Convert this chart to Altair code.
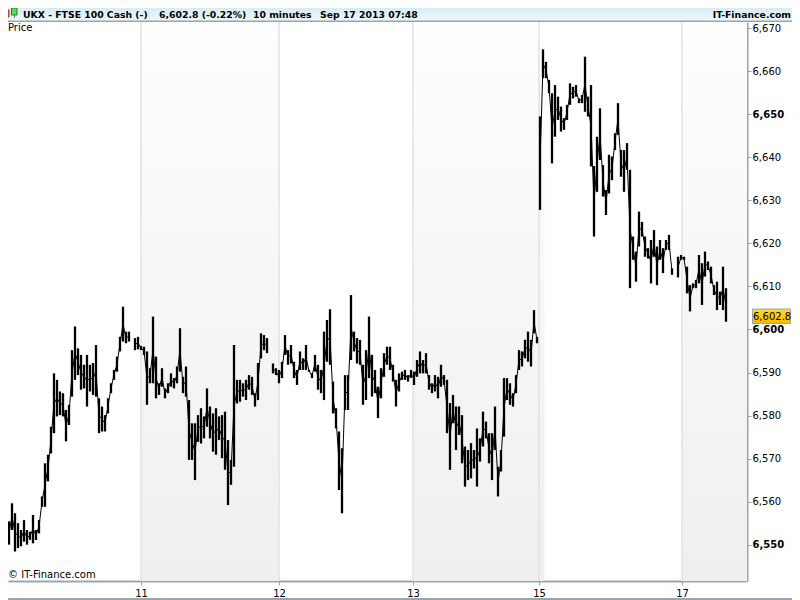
import json
import altair as alt
import pandas as pd

bar_high = [
 6553.0,6555.0,6555.4,6559.6,6557.3,6555.0,6553.4,6555.7,6553.4,6553.0,6556.9,6553.4,6555.7,6561.2,6568.9,6570.9,
 6577.4,6589.8,6588.3,6585.6,6585.2,6581.3,6582.5,6595.2,6600.7,6595.6,6594.1,6591.8,6594.1,6591.8,6592.2,6596.4,
 6584.0,6582.1,6580.1,6584.0,6587.5,6590.6,6593.7,6598.3,6605.3,6599.5,6599.5,None,6598.0,6598.3,6596.2,6596.0,
 6594.9,6591.0,6603.0,6593.7,6587.5,6591.0,6586.3,6587.5,6589.8,6588.7,6591.4,6600.3,6589.0,6591.4,6583.6,6578.2,
 6578.2,6580.1,6581.7,6579.8,6586.3,6582.1,6580.5,6581.7,6579.8,6580.1,6580.9,6574.3,6569.7,6596.4,6588.3,6588.3,
 6587.5,6588.3,6589.4,6589.0,6585.2,6592.2,6599.1,6598.7,6598.0,None,
 6592.1,6591.0,6590.6,6592.5,6598.7,6595.2,6596.4,6592.5,6590.6,6594.9,6593.3,6596.4,6590.6,6589.8,6594.1,6591.8,
 6590.6,6599.5,6602.2,6604.7,6587.9,6581.7,6576.3,6572.4,6589.4,6589.4,6608.0,6599.5,6598.0,6597.6,6591.8,6595.2,
 6603.0,6594.1,6590.6,6586.7,6591.0,6594.5,6596.0,6596.0,6591.8,6588.3,6589.8,6590.2,6590.6,6589.4,6590.6,6590.2,
 6592.9,6594.9,6592.9,6594.5,6589.4,6587.5,6589.4,6589.0,6591.8,6589.4,6588.3,6582.9,6584.8,6582.1,6582.1,6580.1,
 6572.8,6572.0,6573.6,6572.0,6577.0,6574.7,6580.9,6578.6,6575.9,6575.9,6582.1,6568.1,6572.0,6588.7,6588.7,6587.5,
 6585.2,6589.4,6595.2,6594.9,6597.6,6599.5,6597.6,6604.5,6598.3,
 6649.5,6665.1,6662.2,6658.0,6654.9,6656.8,6654.1,6651.8,6649.1,6652.2,6657.2,6656.4,6656.8,6653.7,6654.5,6663.4,
 6654.1,6656.8,6638.0,6644.8,6651.4,6638.2,6632.4,6640.6,6640.2,6645.6,6652.6,6641.7,6641.7,6643.3,6637.1,6621.6,
 6618.1,6627.4,6625.0,6621.6,6618.9,6620.8,6623.1,6619.3,6620.8,6618.9,6620.8,6622.0,6614.2,None,6616.9,6617.3,
 6616.9,6614.6,6610.3,6610.7,6611.5,6617.3,6615.4,6618.1,6615.8,6614.6,6610.3,6611.1,6608.8,6614.6,6609.6]
bar_low = [
 6551.7,6553.0,6550.0,6553.4,6548.4,6549.2,6549.6,6550.7,6550.0,6551.1,6550.3,6551.1,6552.6,6558.8,6558.8,6564.7,
 6571.2,6575.9,6579.8,6580.1,6579.8,6574.0,6577.8,6584.4,6588.3,6589.4,6586.0,6586.3,6582.1,6585.6,6584.8,6584.4,
 6575.9,6576.3,6576.3,6580.5,6585.2,6588.3,6590.2,6594.9,6597.2,6596.8,6597.2,None,6595.2,6595.4,6595.2,6594.1,
 6582.5,6587.5,6587.5,6584.0,6584.8,6586.7,6584.0,6585.2,6586.7,6586.3,6587.5,6590.2,6585.2,6584.4,6569.7,6569.7,
 6565.0,6573.9,6573.5,6574.7,6577.4,6574.7,6571.6,6570.9,6574.3,6570.1,6567.4,6559.2,6563.9,6568.1,6582.8,6583.2,
 6584.4,6583.6,6586.0,6584.8,6582.1,6583.6,6593.3,6595.2,6594.5,None,
 6589.8,6589.4,6587.5,6588.7,6594.1,6591.8,6592.1,6588.7,6587.1,6590.6,6590.6,6590.6,6590.2,6588.7,6590.2,6586.0,
 6585.2,6583.6,6592.5,6591.8,6580.5,6577.0,6562.7,6557.3,6581.3,6581.3,6592.9,6594.9,6592.1,6591.8,6582.5,6583.6,
 6588.7,6584.4,6585.2,6579.4,6584.0,6589.0,6591.8,6590.6,6587.9,6582.1,6585.6,6588.3,6588.3,6587.9,6588.7,6587.1,
 6589.0,6589.8,6589.8,6589.8,6586.0,6585.2,6585.6,6584.0,6586.7,6587.1,6575.9,6567.4,6578.2,6572.0,6575.5,6568.9,
 6563.5,6565.0,6565.4,6567.7,6563.5,6569.3,6572.8,6574.7,6568.9,6565.0,6572.0,6561.2,6567.0,6575.1,6583.6,6582.5,
 6582.1,6585.2,6590.6,6591.4,6593.3,6592.5,6591.4,6599.1,6596.8,
 6627.8,6658.4,6658.4,6654.9,6638.6,6644.8,6648.7,6646.0,6646.4,6648.7,6652.2,6653.7,6654.1,6652.6,6652.6,6650.6,
 6649.5,6637.9,6621.6,6632.0,6639.4,6630.9,6626.6,6631.6,6634.7,6641.7,6645.2,6635.5,6632.0,6637.1,6609.6,6616.2,
 6611.1,6619.3,6621.6,6616.9,6616.5,6610.7,6616.9,6610.3,6616.2,6613.1,6618.5,6618.5,6612.7,None,6612.1,6616.2,
 6616.2,6608.4,6604.2,6609.6,6609.6,6610.7,6605.7,6612.3,6613.8,6610.7,6608.0,6604.5,6605.7,6604.5,6601.8]

session_ticks = [46, 92, 136.67, 178.67, 226.33]
session_labels = ["11", "12", "13", "15", "17"]
band_start = [46, 136.67, 226.33]
band_end = [92, 180.5, 248]
price_ticks = [6550, 6560, 6570, 6580, 6590, 6600, 6610, 6620, 6630, 6640, 6650, 6660, 6670]
last_price = 6602.8
weekend_gap = 179
x_domain = [1.667, 248]
y_domain = [6541.55, 6671.46]

FONT = "DejaVu Sans"
AXIS = "#9aa5ad"
W, H = 739, 559

table = pd.DataFrame({"i": range(len(bar_high)), "high": bar_high, "low": bar_low})
table["high"] = pd.to_numeric(table["high"])
table["low"] = pd.to_numeric(table["low"])
table["mid"] = (table["high"] + table["low"]) / 2
table["leg"] = (table["i"] >= weekend_gap).astype(int)
bars = table.dropna()
bands = pd.DataFrame({"start": band_start, "end": band_end})
sessions = pd.DataFrame({"t": session_ticks})

xs = alt.Scale(domain=x_domain, nice=False, zero=False)
ys = alt.Scale(domain=y_domain, nice=False, zero=False)
label_expr = f"{json.dumps(session_labels)}[indexof({json.dumps(session_ticks)}, datum.value)]"

band_layer = alt.Chart(bands).mark_rect(
    fill=alt.Gradient(gradient="linear", x1=0, y1=0, x2=0, y2=1,
                      stops=[alt.GradientStop(color="#fefefe", offset=0),
                             alt.GradientStop(color="#efefef", offset=1)])
).encode(x=alt.X("start:Q", scale=xs, title=None), x2="end:Q")

grid_layer = alt.Chart(sessions).mark_rule(color="#e2e2e2", strokeWidth=1.5).encode(
    x=alt.X("t:Q", scale=xs, title=None))

connector = alt.Chart(table).mark_line(color="#000000", strokeWidth=1, interpolate="linear").encode(
    x=alt.X("i:Q", scale=xs, title=None),
    y=alt.Y("mid:Q", scale=ys, title=None),
    detail="leg:N",
)

bar_layer = alt.Chart(bars).mark_rule(color="#000000", strokeWidth=2.3).encode(
    x=alt.X("i:Q", scale=xs, title=None,
            axis=alt.Axis(values=session_ticks, labelExpr=label_expr, grid=False,
                          domainColor=AXIS, domainWidth=2, tickColor=AXIS, tickSize=4,
                          labelFont=FONT, labelFontSize=10, labelColor="#000000",
                          labelPadding=3, labelAngle=0)),
    y=alt.Y("high:Q", scale=ys, title=None,
            axis=alt.Axis(orient="right", values=price_ticks, format=",.0f", grid=False,
                          domainColor=AXIS, domainWidth=2, tickColor=AXIS, tickSize=4,
                          labelFont=FONT, labelFontSize=10, labelColor="#000000",
                          labelPadding=1,
                          labelFontWeight={"condition": {"test": "datum.value % 50 === 0", "value": "bold"},
                                           "value": "normal"})),
    y2="low:Q",
)


def box(x, x2, y, y2, **kw):
    return alt.Chart(pd.DataFrame({"a": [0]})).mark_rect(**kw).encode(
        x=alt.value(x), x2=alt.value(x2), y=alt.value(y), y2=alt.value(y2))


def label(text, x, y, align="left", weight="normal", size=10):
    return alt.Chart(pd.DataFrame({"t": [text]})).mark_text(
        align=align, baseline="middle", font=FONT, fontSize=size, fontWeight=weight, color="#000000"
    ).encode(text="t:N", x=alt.value(x), y=alt.value(y))


header_fill = alt.Gradient(gradient="linear", x1=0, y1=0, x2=0, y2=1,
                           stops=[alt.GradientStop(color="#d8ecf5", offset=0),
                                  alt.GradientStop(color="#eef7fb", offset=1)])
header = [
    box(0, 784, -14, -1, fill=header_fill),
    box(0, 784, -1.5, 0, fill=AXIS),
    box(-5, 1, -12, -5, fill="#e8686c", stroke="#a03030", strokeWidth=1),
    box(6, 6.8, -14, -4, fill="#208020"),
    box(3.5, 9, -14, -7, fill="#5fdc5f", stroke="#208020", strokeWidth=1),
    label("UKX - FTSE 100 Cash (-)", 15, -7.5, weight="bold", size=9.3),
    label("6,602.8 (-0.22%)", 151, -7.5, weight="bold", size=9.3),
    label("10 minutes", 245, -7.5, weight="bold", size=9.3),
    label("Sep 17 2013 07:48", 312, -7.5, weight="bold", size=9.3),
    label("IT-Finance.com", 783, -7.5, align="right", weight="bold", size=9.3),
    label("Price", 0, 6),
    label("\u00a9 IT-Finance.com", 0, 553),
    box(0, 784, 576, 578, fill=AXIS),
]
badge = [
    box(744.5, 782.5, 287, 301.5,
        fill=alt.Gradient(gradient="linear", x1=0, y1=0, x2=0, y2=1,
                          stops=[alt.GradientStop(color="#ffd92a", offset=0),
                                 alt.GradientStop(color="#fbb800", offset=1)]),
        stroke=AXIS, strokeWidth=1),
    alt.Chart(pd.DataFrame({"p": [last_price]})).mark_text(
        align="left", baseline="middle", font=FONT, fontSize=10, color="#000000"
    ).encode(text=alt.Text("p:Q", format=",.1f"), x=alt.value(745), y=alt.value(294.5)),
]

chart = alt.layer(band_layer, grid_layer, connector, bar_layer, *header, *badge).properties(
    width=W, height=H,
    padding={"left": 0, "top": 14, "right": 45, "bottom": 19},
    autosize=alt.AutoSizeParams(type="none"),
).configure_view(stroke=None)

chart.save("out.html", embed_options={"renderer": "svg", "actions": False})
